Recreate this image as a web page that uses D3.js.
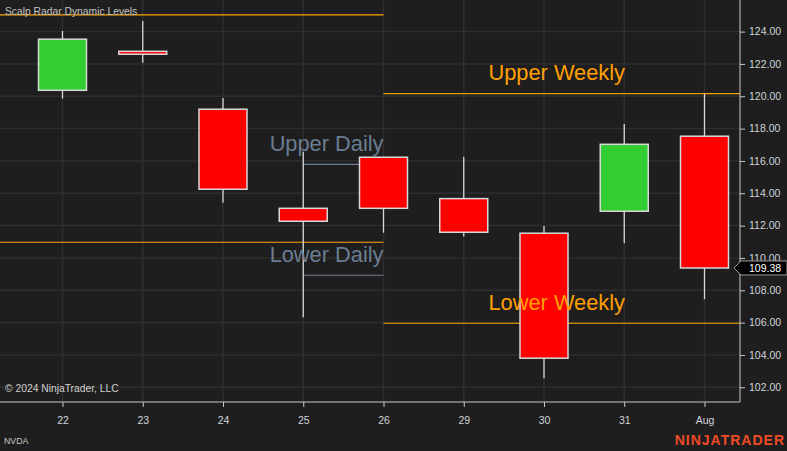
<!DOCTYPE html>
<html lang="en">
<head>
<meta charset="UTF-8">
<title>Scalp Radar Dynamic Levels</title>
<script src="https://cdn.jsdelivr.net/npm/d3@7"></script>
<style>
  html, body { margin: 0; padding: 0; background: #1e1e1e; overflow: hidden; }
  svg { display: block; }
</style>
</head>
<body>
<script>
// candles
const dates  = ["22", "23", "24", "25", "26", "29", "30", "31", "Aug"]
const opens  = [120.37, 122.78, 119.20, 113.07, 116.23, 113.67, 111.53, 112.89, 117.53]
const highs  = [124.04, 124.66, 119.89, 116.57, 116.23, 116.26, 111.98, 118.29, 120.17]
const lows   = [119.85, 122.08, 113.42, 106.33, 111.56, 111.32, 102.56, 110.91, 107.45]
const closes = [123.53, 122.60, 114.25, 112.27, 113.07, 111.59, 103.80, 117.03, 109.38]

// dynamic levels (null = chart edge)
const levelNames  = ["", "", "Upper Weekly", "Lower Weekly", "Upper Daily", "Lower Daily"]
const levelKinds  = ["weekly", "weekly", "weekly", "weekly", "daily", "daily"]
const levelValues = [125.03, 110.97, 120.17, 105.96, 115.79, 108.93]
const levelFrom   = [null, null, "26", "26", "25", "25"]
const levelTo     = ["26", "26", null, null, "26", "26"]

const priceTicks = [102, 104, 106, 108, 110, 112, 114, 116, 118, 120, 122, 124]
const lastPrice = 109.38

const width = 787, height = 451
const plotW = 740, plotH = 402
const font = "'Liberation Sans', Arial, sans-serif"

const svg = d3.select("body").append("svg").attr("width", width).attr("height", height)
svg.append("rect").attr("width", width).attr("height", height).attr("fill", "#1e1e1e")

const x = d3.scalePoint().domain(dates).range([62.5, 704.5])
const y = d3.scaleLinear().domain([101.09, 125.955]).range([plotH, 0])

// grid
const grid = svg.append("g")
grid.selectAll(".vg").data(dates).enter().append("line")
    .attr("x1", d => x(d)).attr("x2", d => x(d)).attr("y1", 0).attr("y2", plotH)
    .attr("stroke", "#2e2e2e").attr("stroke-width", 1.5)
grid.selectAll(".hg").data(priceTicks).enter().append("line")
    .attr("x1", 0).attr("x2", plotW).attr("y1", d => y(d)).attr("y2", d => y(d))
    .attr("stroke", "#2e2e2e").attr("stroke-width", 1.5)

// levels
const levelColour = {weekly: "#ffa500", daily: "#708090"}
const levels = levelValues.map((v, i) => ({name: levelNames[i], kind: levelKinds[i], value: v, from: levelFrom[i], to: levelTo[i]}))
svg.append("g").selectAll("line").data(levels).enter().append("line")
    .attr("x1", d => d.from ? x(d.from) : 0)
    .attr("x2", d => d.to ? x(d.to) : plotW)
    .attr("y1", d => y(d.value)).attr("y2", d => y(d.value))
    .attr("stroke", d => levelColour[d.kind]).attr("stroke-width", 1.2)

// candles
const candles = dates.map((d, i) => ({date: d, open: opens[i], high: highs[i], low: lows[i], close: closes[i]}))
const bodyW = 48
const cg = svg.append("g").selectAll("g").data(candles).enter().append("g")
cg.append("line")
    .attr("x1", d => x(d.date)).attr("x2", d => x(d.date))
    .attr("y1", d => y(d.high)).attr("y2", d => y(d.low))
    .attr("stroke", "#d8d8d8").attr("stroke-width", 1.3)
cg.append("rect")
    .attr("x", d => x(d.date) - bodyW / 2)
    .attr("y", d => y(Math.max(d.open, d.close)))
    .attr("width", bodyW)
    .attr("height", d => Math.max(2, y(Math.min(d.open, d.close)) - y(Math.max(d.open, d.close))))
    .attr("fill", d => d.close >= d.open ? "#32cd32" : "#ff0000")
    .attr("stroke", "#d8d8d8").attr("stroke-width", 1.5)

// level labels
svg.append("g").selectAll("text").data(levels.filter(d => d.name)).enter().append("text")
    .attr("x", d => d.kind === "weekly" ? x(d.from) + 105 : x(d.to))
    .attr("y", d => y(d.value) - 13.5)
    .attr("text-anchor", d => d.kind === "weekly" ? "start" : "end")
    .attr("fill", d => d.kind === "weekly" ? "#ff9f00" : "#6a7d92")
    .attr("font-family", font).attr("font-size", 21.8)
    .text(d => d.name)

// axes
const yAxis = d3.axisRight(y).tickValues(priceTicks).tickFormat(d3.format(".2f")).tickSize(5).tickPadding(4)
svg.append("g").attr("transform", `translate(${plotW},0)`).call(yAxis)
    .call(g => g.select(".domain").attr("d", `M0,0V${plotH}`))
    .call(g => g.selectAll("line, path").attr("stroke", "#c8c8c8"))
    .call(g => g.selectAll("text").attr("fill", "#d0d4da").attr("font-family", font).attr("font-size", 10.5))

const xAxis = d3.axisBottom(x).tickSize(5).tickPadding(10)
svg.append("g").attr("transform", `translate(0,${plotH})`).call(xAxis)
    .call(g => g.select(".domain").attr("d", `M0,0H${plotW}`))
    .call(g => g.selectAll("line, path").attr("stroke", "#c8c8c8"))
    .call(g => g.selectAll("text").attr("fill", "#d0d4da").attr("font-family", font).attr("font-size", 10.5))

// last price tag
const tagY = y(lastPrice)
svg.append("path")
    .attr("d", `M734,${tagY}L741,${tagY - 7}H787V${tagY + 7}H741Z`)
    .attr("fill", "#000").attr("stroke", "#9a9a9a").attr("stroke-width", 1)
svg.append("text").attr("x", 749).attr("y", tagY + 4)
    .attr("fill", "#ffffff").attr("font-family", font).attr("font-size", 10.5)
    .text(d3.format(".2f")(lastPrice))

// texts
svg.append("text").attr("x", 5).attr("y", 15)
    .attr("fill", "#c4c4c4").attr("font-family", font).attr("font-size", 10.3)
    .text("Scalp Radar Dynamic Levels")
svg.append("text").attr("x", 5).attr("y", 392)
    .attr("fill", "#d0d0d0").attr("font-family", font).attr("font-size", 10.3)
    .text("© 2024 NinjaTrader, LLC")
svg.append("text").attr("x", 4).attr("y", 444)
    .attr("fill", "#c8c8c8").attr("font-family", font).attr("font-size", 8.8)
    .text("NVDA")
svg.append("text").attr("x", 785).attr("y", 445).attr("text-anchor", "end")
    .attr("fill", "#ee4b26").attr("font-family", font).attr("font-size", 14).attr("font-weight", "bold")
    .attr("letter-spacing", 1)
    .text("NINJATRADER")
</script>
</body>
</html>
